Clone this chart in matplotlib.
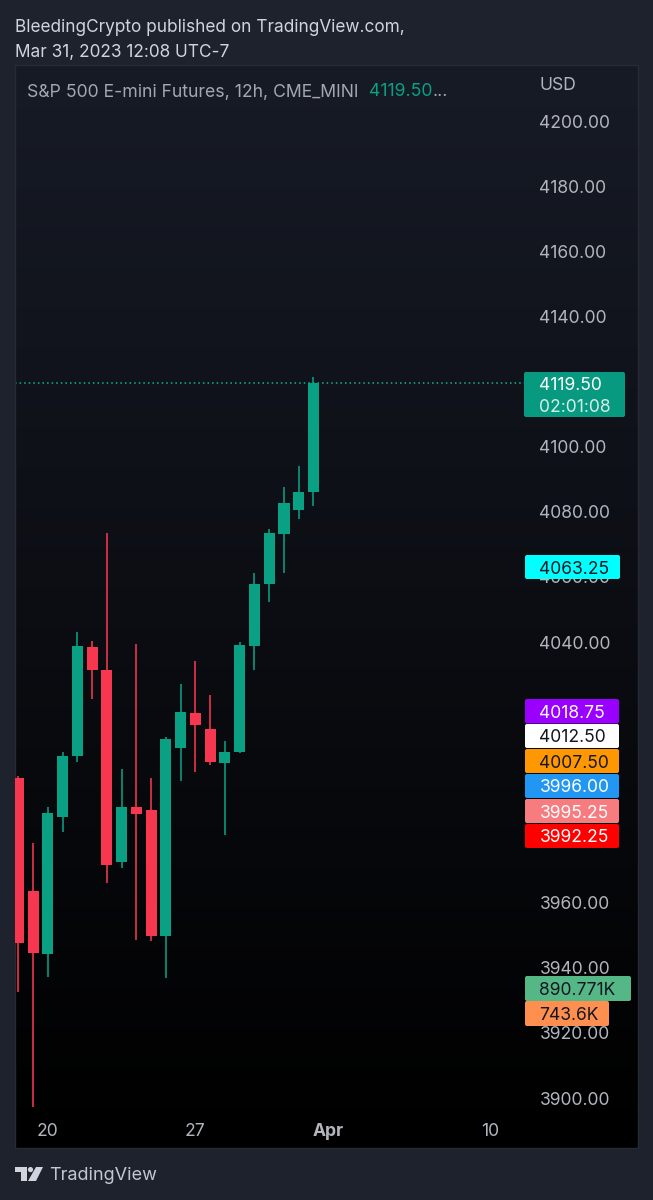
import numpy as np
import matplotlib
matplotlib.use("Agg")
import matplotlib.pyplot as plt
from matplotlib.colors import to_rgb
from matplotlib.patches import FancyBboxPatch, Polygon, Circle

plt.rcParams['font.family'] = ['Inter', 'DejaVu Sans']

# ---------- data ----------
opens = [3998.25, 3963.5, 3944.25, 3986.25, 4005.0, 4038.5, 4031.5, 3972.5, 3989.5, 3988.5, 3949.75,
         4007.5, 4018.25, 4013.25, 4003.0, 4006.25, 4038.75, 4057.75, 4073.25, 4080.5, 4086.0]
closes = [3947.5, 3944.5, 3987.5, 4005.0, 4038.75, 4031.5, 3971.5, 3989.5, 3987.25, 3949.75, 4010.25,
          4018.5, 4014.5, 4003.25, 4006.25, 4039.0, 4057.75, 4073.5, 4082.75, 4086.0, 4119.5]
highs = [3999.0, 3978.25, 3989.5, 4006.25, 4043.0, 4040.25, 4073.5, 4001.0, 4039.5, 3998.25, 4011.0,
         4027.0, 4034.25, 4023.75, 4009.5, 4040.0, 4061.25, 4074.75, 4087.5, 4094.0, 4121.5]
lows = [3932.5, 3897.25, 3937.25, 3981.75, 4003.25, 4022.5, 3966.0, 3970.5, 3948.5, 3948.25, 3936.75,
        3997.25, 4000.0, 4002.25, 3980.75, 4006.0, 4031.5, 4052.25, 4061.25, 4077.75, 4081.75]
# ticks that the price tags hide completely in the reference are left out
price_ticks = [3900, 3920, 3940, 3960, 4040, 4060, 4080, 4100, 4140, 4160, 4180, 4200]
date_pos = [2, 12, 21, 32]
date_labels = ['20', '27', 'Apr', '10']
last_price = 4119.5
last_text = ['4119.50', '02:01:08']
level_labels = ['4063.25', '4018.75', '4012.50', '4007.50', '3996.00', '3995.25', '3992.25', '890.771K', '743.6K']

# ---------- style / layout ----------
W, H = 653, 1200
DPI = 100
PAGE = '#1e222d'
UP = '#09a083'
DOWN = '#f7374f'
TICK = '#b2b5be'
PANE = (15, 65, 638, 1148)      # left, top, right, bottom in px
X0, DX = 18.3, 14.76            # px of candle 0, px per candle
Y4200, PXPT = 121.0, 3.2567     # px of 4200, px per point
FS = 12.6

fig = plt.figure(figsize=(W / DPI, H / DPI), dpi=DPI, facecolor=PAGE)
l, t, r, b = PANE
ax = fig.add_axes([l / W, 1 - b / H, (r - l) / W, (b - t) / H])

# pane gradient
top = np.array(to_rgb('#171b26'))
frac = np.linspace(1, 0, 256)[:, None, None]
ax.imshow(frac * top[None, None, :], extent=(0, 1, 0, 1), transform=ax.transAxes,
          aspect='auto', zorder=0, interpolation='bilinear')
ax.set_xlim((l - X0) / DX, (r - X0) / DX)
ax.set_ylim(4200 - (b - Y4200) / PXPT, 4200 - (t - Y4200) / PXPT)

# candles
idx = np.arange(len(opens))
colors = [UP if c >= o else DOWN for o, c in zip(opens, closes)]
ax.vlines(idx, lows, highs, colors=colors, linewidth=1.15, zorder=2)
body_low = np.minimum(opens, closes)
body_h = np.abs(np.array(closes) - np.array(opens))
ax.bar(idx, body_h, bottom=body_low, width=0.75, color=colors, linewidth=0, zorder=3)

# last price line, stopping at the price tag
ax.axhline(last_price, xmax=(524 - l) / (r - l), color='#14b394', linewidth=1.1,
           linestyle=(0, (1, 2.0)), zorder=1.5)

# axes ticks drawn inside the pane
ax.yaxis.tick_right()
ax.set_yticks(price_ticks)
ax.set_yticklabels([f'{v:.2f}' for v in price_ticks], fontsize=FS, color=TICK)
ax.tick_params(axis='y', length=0, pad=-(638 - 539.5) * 72 / DPI)
ax.set_xticks(date_pos)
ax.set_xticklabels(date_labels, fontsize=FS, color=TICK)
ax.tick_params(axis='x', length=0, pad=-(1148 - 1123) * 72 / DPI)
for lab in ax.get_xticklabels():
    if lab.get_text() == 'Apr':
        lab.set_fontweight('bold')
for s in ax.spines.values():
    s.set_color('#262a35')
    s.set_linewidth(1.0)

# overlay in pixel coordinates for page furniture
ov = fig.add_axes([0, 0, 1, 1], zorder=5)
ov.set_xlim(0, W)
ov.set_ylim(H, 0)
ov.axis('off')
ov.patch.set_alpha(0)

def label(x0, x1, y0, y1, fc, text, tc):
    ov.add_patch(FancyBboxPatch((x0 + 2, y0 + 2), x1 - x0 - 4, y1 - y0 - 4,
                                boxstyle='round,pad=2,rounding_size=2', fc=fc, ec='none'))
    ov.text(539.5, (y0 + y1) / 2, text, fontsize=FS, color=tc, ha='left', va='center_baseline')

# header / legend
ov.text(15, 26, 'BleedingCrypto published on TradingView.com,', fontsize=12.4, color='#d1d4dc', va='center_baseline')
ov.text(15, 50, 'Mar 31, 2023 12:08 UTC-7', fontsize=12.4, color='#d1d4dc', va='center_baseline')
ov.text(27, 90, 'S&P 500 E-mini Futures, 12h, CME_MINI', fontsize=12.7, color='#a4a7b0', va='center_baseline')
ov.text(369, 90, '4119.50', fontsize=12.7, color=UP, va='center_baseline')
ov.text(433, 90, '...', fontsize=12.7, color='#a4a7b0', va='center_baseline')
ov.text(539.5, 84, 'USD', fontsize=FS, color=TICK, va='center_baseline')

# last price tag
ov.add_patch(FancyBboxPatch((526, 374), 97, 41, boxstyle='round,pad=2,rounding_size=2', fc='#089981', ec='none'))
ov.text(539.5, 384, last_text[0], fontsize=FS, color='white', va='center_baseline')
ov.text(539.5, 405, last_text[1], fontsize=FS, color='#d5efe9', va='center_baseline')

# coloured level labels
label(525, 620, 555, 579, '#00ffff', level_labels[0], '#131722')
label(525, 619, 699, 723.5, '#9900ff', level_labels[1], 'white')
label(525, 619, 724, 748, '#ffffff', level_labels[2], '#131722')
label(525, 619, 749, 773, '#ff9800', level_labels[3], '#131722')
label(525, 619, 774, 798, '#2196f3', level_labels[4], 'white')
label(525, 619, 799, 823, '#f77c80', level_labels[5], 'white')
label(525, 619, 824, 848, '#ff0000', level_labels[6], 'white')
label(525, 631, 976, 1001, '#56b786', level_labels[7], '#131722')
label(525, 609, 1001, 1026, '#ff8f4f', level_labels[8], '#131722')

# TradingView logo and name
LOGO = '#d1d4dc'
ov.add_patch(Polygon([(15, 1167), (27, 1167), (27, 1181), (21, 1181), (21, 1172), (15, 1172)], fc=LOGO, ec='none'))
ov.add_patch(Circle((30.5, 1169.6), 2.6, fc=LOGO, ec='none'))
ov.add_patch(Polygon([(36, 1167), (43, 1167), (36, 1181), (28, 1181)], fc=LOGO, ec='none'))
ov.text(49, 1173.5, 'TradingView', fontsize=13.0, color='#c4c7cf', va='center_baseline')

fig.savefig('out.png', dpi=DPI, facecolor=PAGE)
